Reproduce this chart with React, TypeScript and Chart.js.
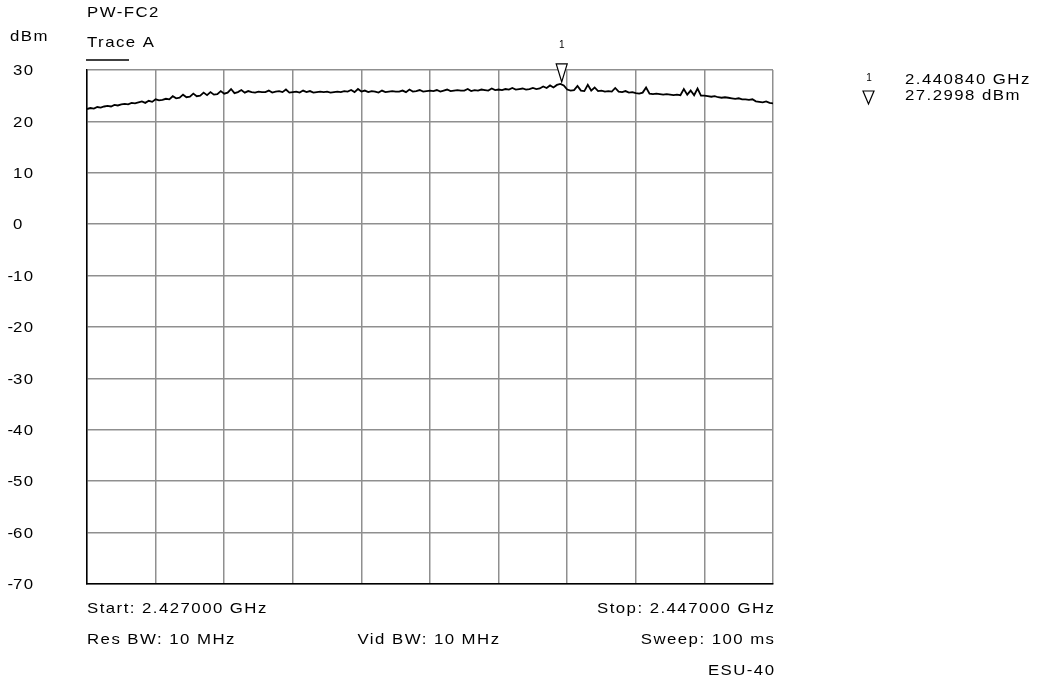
import React, { useEffect, useRef } from "react";
import { Chart, registerables } from "chart.js";

Chart.register(...registerables);

// ---- data ----
const startFreqGHz = 2.427;
const stopFreqGHz = 2.447;
const freqStepGHz = 0.0001;

const traceLevels = [
  22.4, 22.6, 22.5, 22.8, 22.7, 22.9, 23.0, 22.9, 23.2, 23.1, 23.3, 23.4, 23.3, 23.6, 23.5, 23.7, 23.9, 23.6, 24.0, 23.8,
  24.3, 24.1, 24.2, 24.4, 24.3, 24.9, 24.5, 24.6, 25.2, 24.7, 24.8, 25.4, 24.9, 25.0, 25.6, 25.1, 25.7, 25.2, 25.3, 25.9,
  25.4, 25.6, 26.3, 25.5, 25.7, 26.1, 25.6, 25.9, 25.7, 25.6, 25.8, 25.7, 25.7, 26.0, 25.6, 25.8, 25.9, 25.7, 26.2, 25.6,
  25.7, 25.8, 25.6, 26.0, 25.7, 25.9, 25.6, 25.7, 25.8, 25.7, 25.8, 25.6, 25.7, 25.8, 25.7, 25.9, 25.8, 26.1, 25.7, 26.3,
  25.8, 26.0, 25.7, 25.9, 25.8, 25.6, 26.0, 25.7, 25.8, 25.9, 25.8, 25.8, 26.0, 25.7, 26.2, 25.8, 25.9, 26.1, 25.8, 25.9,
  26.0, 25.9, 26.1, 25.8, 26.0, 26.2, 25.9, 26.0, 26.1, 26.0, 26.0, 26.3, 25.9, 26.1, 26.0, 26.2, 26.1, 26.0, 26.4, 26.1,
  26.2, 26.1, 26.3, 26.2, 26.5, 26.2, 26.3, 26.4, 26.2, 26.3, 26.5, 26.3, 26.4, 26.8, 26.5, 27.0, 26.6, 27.1, 27.3, 27.0,
  26.2, 26.0, 26.1, 26.9, 26.0, 25.9, 27.1, 26.0, 26.6, 25.9, 26.0, 25.8, 25.9, 25.8, 26.5, 25.8, 25.7, 25.9, 25.6, 25.7,
  25.5, 25.4, 25.6, 26.6, 25.4, 25.3, 25.4, 25.3, 25.2, 25.3, 25.2, 25.1, 25.2, 25.1, 26.3, 25.2, 26.0, 25.1, 26.4, 25.0,
  25.0, 24.9, 24.8, 24.9, 24.7, 24.6, 24.7, 24.6, 24.5, 24.4, 24.5, 24.3, 24.3, 24.2, 24.3, 23.9, 23.8, 23.7, 23.9, 23.6,
  23.5,
];

const traceFreqs = traceLevels.map((_, i) => startFreqGHz + i * freqStepGHz);

const gridFreqs = [2.427, 2.429, 2.431, 2.433, 2.435, 2.437, 2.439, 2.441, 2.443, 2.445, 2.447];
const levelTicks = [30, 20, 10, 0, -10, -20, -30, -40, -50, -60, -70];

const markerFreqs = [2.44084];
const markerLevels = [27.2998];
const markerLabels = ["1"];
const markerFreqText = ["2.440840 GHz"];
const markerLevelText = ["27.2998 dBm"];

const titleText = "PW-FC2";
const unitText = "dBm";
const traceText = "Trace A";
const startText = "Start: 2.427000 GHz";
const stopText = "Stop: 2.447000 GHz";
const resBwText = "Res BW: 10 MHz";
const vidBwText = "Vid BW: 10 MHz";
const sweepText = "Sweep: 100 ms";
const deviceText = "ESU-40";

const FONT = '"Liberation Sans", Arial, sans-serif';

function drawText(
  ctx: CanvasRenderingContext2D,
  s: string,
  x: number,
  y: number,
  align: CanvasTextAlign,
  size = 15,
  spacing = 1.3,
  stretch = 1.12
) {
  ctx.save();
  ctx.translate(x, y);
  ctx.scale(stretch, 1);
  ctx.font = `${size}px ${FONT}`;
  (ctx as any).letterSpacing = `${spacing}px`;
  ctx.textAlign = align;
  ctx.textBaseline = "middle";
  ctx.fillStyle = "#000";
  const shift = align === "right" ? spacing : 0;
  ctx.fillText(s, shift, 0);
  ctx.restore();
}

const annotationPlugin = {
  id: "analyzerText",
  afterDraw(chart: any) {
    const ctx: CanvasRenderingContext2D = chart.ctx;
    const xs = chart.scales.x;
    const ys = chart.scales.y;
    const area = chart.chartArea;

    drawText(ctx, titleText, area.left, 13, "left");
    drawText(ctx, unitText, 10, 37, "left");
    drawText(ctx, traceText, area.left, 43, "left");
    ctx.save();
    ctx.strokeStyle = "#000";
    ctx.lineWidth = 1.5;
    ctx.beginPath();
    ctx.moveTo(area.left - 1, 60);
    ctx.lineTo(area.left + 42, 60);
    ctx.stroke();
    ctx.restore();

    // y labels
    levelTicks.forEach((v) => {
      const y = ys.getPixelForValue(v);
      drawText(ctx, String(Math.abs(v)), 13, y + 1, "left");
      if (v < 0) drawText(ctx, "-", 13, y + 1, "right", 15, 0);
    });

    // bottom texts
    drawText(ctx, startText, area.left, 609, "left");
    drawText(ctx, stopText, area.right + 1, 609, "right");
    drawText(ctx, resBwText, area.left, 640, "left");
    drawText(ctx, vidBwText, (area.left + area.right) / 2 - 1, 640, "center");
    drawText(ctx, sweepText, area.right + 1, 640, "right");
    drawText(ctx, deviceText, area.right + 1, 671, "right");

    // markers
    markerFreqs.forEach((f, i) => {
      const mx = xs.getPixelForValue(f);
      const my = ys.getPixelForValue(markerLevels[i]);
      const apex = my - 2;
      const top = apex - 18;
      ctx.save();
      ctx.strokeStyle = "#000";
      ctx.fillStyle = "#fff";
      ctx.lineWidth = 1.2;
      ctx.beginPath();
      ctx.moveTo(mx - 5.5, top);
      ctx.lineTo(mx + 5.5, top);
      ctx.lineTo(mx, apex);
      ctx.closePath();
      ctx.fill();
      ctx.stroke();
      ctx.restore();
      drawText(ctx, markerLabels[i], mx, 45, "center", 10, 0, 1);

      // right-hand readout
      drawText(ctx, markerLabels[i], 869, 78, "center", 10, 0, 1);
      ctx.save();
      ctx.strokeStyle = "#000";
      ctx.lineWidth = 1.2;
      ctx.beginPath();
      ctx.moveTo(863, 91);
      ctx.lineTo(874, 91);
      ctx.lineTo(868.5, 104);
      ctx.closePath();
      ctx.stroke();
      ctx.restore();
      drawText(ctx, markerFreqText[i], 905, 80, "left");
      drawText(ctx, markerLevelText[i], 905, 96, "left");
    });
  },
};

export default function App() {
  const ref = useRef<HTMLCanvasElement | null>(null);

  useEffect(() => {
    if (!ref.current) return;
    const chart = new Chart(ref.current, {
      type: "line",
      data: {
        datasets: [
          {
            data: traceFreqs.map((f, i) => ({ x: f, y: traceLevels[i] })),
            borderColor: "#000",
            borderWidth: 1.8,
            pointRadius: 0,
            tension: 0,
            fill: false,
          },
        ],
      },
      options: {
        animation: false,
        responsive: false,
        maintainAspectRatio: false,
        layout: { padding: { left: 87, top: 70, right: 269, bottom: 101 } },
        plugins: { legend: { display: false }, tooltip: { enabled: false } },
        scales: {
          x: {
            type: "linear",
            min: startFreqGHz,
            max: stopFreqGHz,
            afterBuildTicks: (s: any) => {
              s.ticks = gridFreqs.map((v) => ({ value: v }));
            },
            ticks: { display: false },
            grid: { color: "#8f8f8f", lineWidth: 1.5, drawTicks: false },
            border: { color: "#000", width: 1.5 },
          },
          y: {
            type: "linear",
            min: -70,
            max: 30,
            afterBuildTicks: (s: any) => {
              s.ticks = levelTicks.map((v) => ({ value: v }));
            },
            ticks: { display: false },
            grid: { color: "#8f8f8f", lineWidth: 1.5, drawTicks: false },
            border: { color: "#000", width: 1.5 },
          },
        },
      },
      plugins: [annotationPlugin],
    });
    return () => chart.destroy();
  }, []);

  return (
    <div style={{ position: "fixed", left: 0, top: 0, width: 1042, height: 685, background: "#fff" }}>
      <canvas ref={ref} width={1042} height={685} style={{ display: "block" }} />
    </div>
  );
}
